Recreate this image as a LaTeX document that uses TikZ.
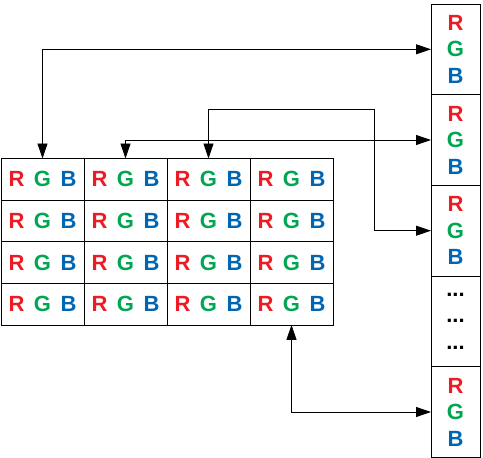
\documentclass[tikz,border=0pt]{standalone}
\usepackage{fontspec}
\setmainfont{Liberation Sans}
\usetikzlibrary{arrows.meta}
\definecolor{chred}{HTML}{ED1C24}
\definecolor{chgreen}{HTML}{00A651}
\definecolor{chblue}{HTML}{0066B3}
\newcommand{\rgbline}{\textcolor{chred}{R}\hspace{9.5pt}\textcolor{chgreen}{G}\hspace{9.5pt}\textcolor{chblue}{B}}
\newcommand{\rgbstack}{\textcolor{chred}{R}\\\textcolor{chgreen}{G}\\\textcolor{chblue}{B}}
\begin{document}
\begin{tikzpicture}
        [x=1pt,y=-1pt,
        every node/.style={rectangle,draw=black,line width=0.8pt,inner sep=0pt,outer sep=0pt,align=center,
            font=\fontsize{22}{26.5}\selectfont\bfseries},
        pixel-cell/.style={minimum width=83pt,minimum height=41.6pt},
        memory-slot/.style={minimum width=49pt,minimum height=90.7pt},
        link/.style={line width=0.8pt,{Triangle[length=15pt,width=10pt]}-{Triangle[length=15pt,width=10pt]}}
        ]
        \useasboundingbox (0,0) rectangle (483,458);
        \node[pixel-cell] (cell-0-0) at (42.5, 179.3) {\rgbline};
        \node[pixel-cell] (cell-0-1) at (125.5, 179.3) {\rgbline};
        \node[pixel-cell] (cell-0-2) at (208.5, 179.3) {\rgbline};
        \node[pixel-cell] (cell-0-3) at (291.5, 179.3) {\rgbline};
        \node[pixel-cell] (cell-1-0) at (42.5, 220.9) {\rgbline};
        \node[pixel-cell] (cell-1-1) at (125.5, 220.9) {\rgbline};
        \node[pixel-cell] (cell-1-2) at (208.5, 220.9) {\rgbline};
        \node[pixel-cell] (cell-1-3) at (291.5, 220.9) {\rgbline};
        \node[pixel-cell] (cell-2-0) at (42.5, 262.5) {\rgbline};
        \node[pixel-cell] (cell-2-1) at (125.5, 262.5) {\rgbline};
        \node[pixel-cell] (cell-2-2) at (208.5, 262.5) {\rgbline};
        \node[pixel-cell] (cell-2-3) at (291.5, 262.5) {\rgbline};
        \node[pixel-cell] (cell-3-0) at (42.5, 304.1) {\rgbline};
        \node[pixel-cell] (cell-3-1) at (125.5, 304.1) {\rgbline};
        \node[pixel-cell] (cell-3-2) at (208.5, 304.1) {\rgbline};
        \node[pixel-cell] (cell-3-3) at (291.5, 304.1) {\rgbline};
        \node[memory-slot] (slot-1) at (455.5, 49.3) {\rgbstack};
        \node[memory-slot] (slot-2) at (455.5, 140) {\rgbstack};
        \node[memory-slot] (slot-3) at (455.5, 230.7) {\rgbstack};
        \node[memory-slot] (slot-4) at (455.5, 321.3) {...\\...\\...};
        \node[memory-slot] (slot-5) at (455.5, 412) {\rgbstack};
        \coordinate (bend-3) at (374.3, 109.3);
        \draw[link] (cell-0-0.north) |- (slot-1.west);
        \draw[link] (cell-0-1.north) |- (slot-2.west);
        \draw[link] (cell-0-2.north) |- (bend-3) |- (slot-3.west);
        \draw[link] (cell-3-3.south) |- (slot-5.west);
    \end{tikzpicture}
\end{document}
